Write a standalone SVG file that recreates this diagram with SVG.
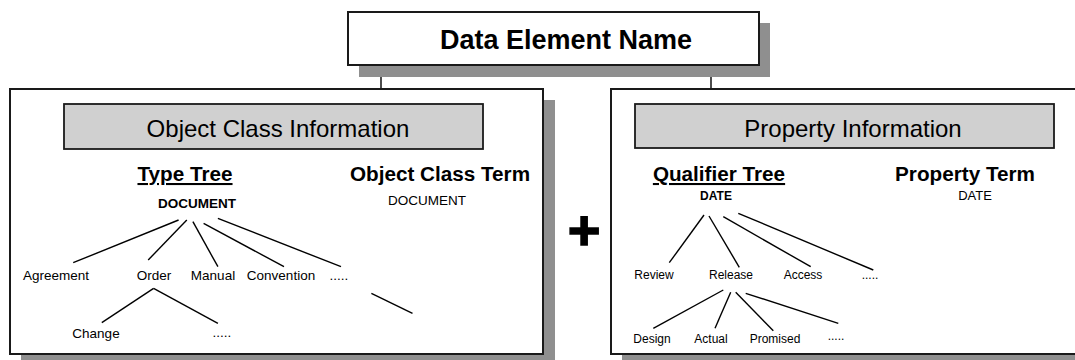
<svg xmlns="http://www.w3.org/2000/svg" width="1075" height="360" viewBox="0 0 1075 360">
<style>
text{font-family:"Liberation Sans",Arial,sans-serif;fill:#000}
.shadow{fill:#8f8f8f}
.box{fill:#fff;stroke:#1a1a1a;stroke-width:2}
.hdr{fill:#d0d0d0;stroke:#1a1a1a;stroke-width:1.8}
.edge{stroke:#000;stroke-width:1.4;fill:none}
.t24{font-size:24px;text-anchor:middle}
.tb{font-size:20.7px;font-weight:bold;text-anchor:middle}
.lbl{font-size:13.5px;text-anchor:middle}
.lbs{font-size:12px;text-anchor:middle}
</style>
<g id="connectors">
<line class="edge" x1="381" y1="65" x2="381" y2="89"/>
<line class="edge" x1="711" y1="65" x2="711" y2="89"/>
</g>
<g id="data-element-name">
<rect class="shadow" x="359" y="23" width="411" height="54"/>
<rect class="box" x="348" y="12" width="411" height="53"/>
<text x="566" y="49" style="font-size:27px;font-weight:bold;text-anchor:middle">Data Element Name</text>
</g>
<g id="object-class-panel">
<rect class="shadow" x="21" y="100" width="534" height="270"/>
<rect class="box" x="10" y="89" width="533" height="265"/>
<rect class="hdr" x="64" y="104" width="419" height="45"/>
<text class="t24" x="278" y="137">Object Class Information</text>
<text class="tb" x="185" y="181" text-decoration="underline">Type Tree</text>
<text class="tb" x="440" y="181">Object Class Term</text>
<text x="197" y="208" style="font-size:13.5px;font-weight:bold;text-anchor:middle">DOCUMENT</text>
<text class="lbl" x="427" y="205">DOCUMENT</text>
<g class="tree">
<line class="edge" x1="178.6" y1="220" x2="73.2" y2="262.7"/>
<line class="edge" x1="186.8" y1="220" x2="148.2" y2="260"/>
<line class="edge" x1="192.9" y1="221.7" x2="217.9" y2="266.7"/>
<line class="edge" x1="203.6" y1="223.3" x2="284" y2="266.7"/>
<line class="edge" x1="217.9" y1="218.3" x2="341" y2="266.7"/>
<line class="edge" x1="153.6" y1="288.3" x2="101.8" y2="322.7"/>
<line class="edge" x1="153.6" y1="288.3" x2="217.9" y2="323.3"/>
<line class="edge" x1="371.4" y1="293.3" x2="412.5" y2="313.3"/>
</g>
<text class="lbl" x="56" y="280">Agreement</text>
<text class="lbl" x="154" y="280">Order</text>
<text class="lbl" x="213" y="280">Manual</text>
<text class="lbl" x="281" y="280">Convention</text>
<text class="lbl" x="339" y="280">.....</text>
<text class="lbl" x="96" y="338">Change</text>
<text class="lbl" x="222" y="337">.....</text>
</g>
<g id="plus">
<text x="584" y="249" style="font-size:56px;font-weight:bold;text-anchor:middle;stroke:#000;stroke-width:1.5">+</text>
</g>
<g id="property-panel">
<rect class="shadow" x="622" y="100" width="470" height="270"/>
<rect class="box" x="611" y="89" width="480" height="265"/>
<rect class="hdr" x="635" y="104" width="419" height="44"/>
<text class="t24" x="853" y="137">Property Information</text>
<text class="tb" x="719" y="181" text-decoration="underline">Qualifier Tree</text>
<text class="tb" x="965" y="181">Property Term</text>
<text x="716" y="200" style="font-size:12px;font-weight:bold;text-anchor:middle">DATE</text>
<text x="975" y="200" style="font-size:13px;text-anchor:middle">DATE</text>
<g class="tree">
<line class="edge" x1="704" y1="215" x2="669.3" y2="262.7"/>
<line class="edge" x1="709" y1="216" x2="739.3" y2="267.3"/>
<line class="edge" x1="723.3" y1="216.7" x2="810.7" y2="266.7"/>
<line class="edge" x1="738.3" y1="213.3" x2="873.3" y2="270"/>
<line class="edge" x1="723.3" y1="290" x2="653.3" y2="328.3"/>
<line class="edge" x1="730.7" y1="292.3" x2="715" y2="328.3"/>
<line class="edge" x1="735.7" y1="292.3" x2="773.3" y2="330.7"/>
<line class="edge" x1="745.7" y1="293.3" x2="838.3" y2="323.3"/>
</g>
<text class="lbs" x="654" y="279">Review</text>
<text class="lbs" x="731" y="279">Release</text>
<text class="lbs" x="803" y="279">Access</text>
<text class="lbs" x="870" y="279">.....</text>
<text class="lbs" x="652" y="343">Design</text>
<text class="lbs" x="711" y="343">Actual</text>
<text class="lbs" x="775" y="343">Promised</text>
<text class="lbs" x="836" y="340">.....</text>
</g>
</svg>
